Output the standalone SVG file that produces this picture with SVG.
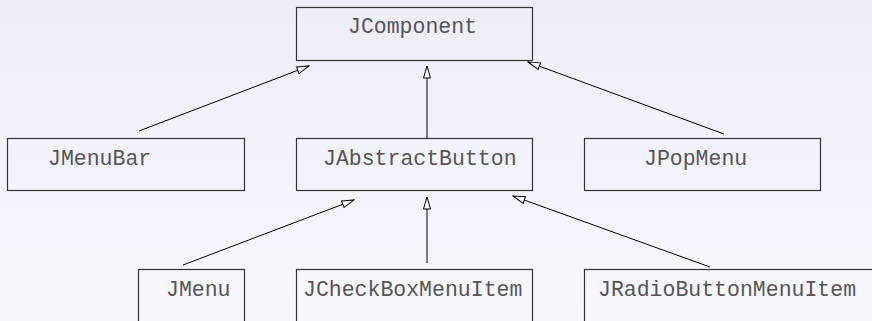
<svg xmlns="http://www.w3.org/2000/svg" width="872" height="321" viewBox="0 0 872 321">
<defs>
<linearGradient id="bg" x1="0" y1="0" x2="0" y2="1">
<stop offset="0" stop-color="#eeeef9"/>
<stop offset="1" stop-color="#f7f7fd"/>
</linearGradient>
<marker id="tri" viewBox="0 0 14 10" refX="13" refY="5" markerWidth="14" markerHeight="10" markerUnits="userSpaceOnUse" orient="auto">
<path d="M1,1.5 L13,5 L1,8.5 Z" fill="#ffffff" stroke="#000" stroke-width="1"/>
</marker>
</defs>
<style>
.box{fill:none;stroke:#333;stroke-width:1.2}
.lbl{font-family:"Courier New","Liberation Mono",monospace;font-size:21.5px;fill:#555}
.edge{stroke:#000;stroke-width:1;fill:none;marker-end:url(#tri)}
</style>
<rect width="872" height="321" fill="url(#bg)"/>
<g id="connectors">
<line class="edge" x1="139" y1="131" x2="309" y2="66"/>
<line class="edge" x1="427" y1="138" x2="427" y2="66"/>
<line class="edge" x1="724" y1="134" x2="528" y2="62"/>
<line class="edge" x1="183" y1="265" x2="354" y2="200"/>
<line class="edge" x1="427" y1="263" x2="427" y2="197"/>
<line class="edge" x1="710" y1="267" x2="513" y2="196"/>
</g>
<g id="JComponent"><rect class="box" x="296.5" y="7.5" width="236" height="53"/><text class="lbl" x="348" y="33">JComponent</text></g>
<g id="JMenuBar"><rect class="box" x="7.5" y="138.5" width="237" height="52"/><text class="lbl" x="48" y="165">JMenuBar</text></g>
<g id="JAbstractButton"><rect class="box" x="296.5" y="138.5" width="236" height="52"/><text class="lbl" x="323" y="165">JAbstractButton</text></g>
<g id="JPopMenu"><rect class="box" x="584.5" y="138.5" width="236" height="52"/><text class="lbl" x="644" y="165">JPopMenu</text></g>
<g id="JMenu"><rect class="box" x="138.5" y="269.5" width="106" height="60"/><text class="lbl" x="166" y="296">JMenu</text></g>
<g id="JCheckBoxMenuItem"><rect class="box" x="296.5" y="269.5" width="236" height="60"/><text class="lbl" x="303" y="296">JCheckBoxMenuItem</text></g>
<g id="JRadioButtonMenuItem"><rect class="box" x="584.5" y="269.5" width="300" height="60"/><text class="lbl" x="598" y="296">JRadioButtonMenuItem</text></g>
</svg>
